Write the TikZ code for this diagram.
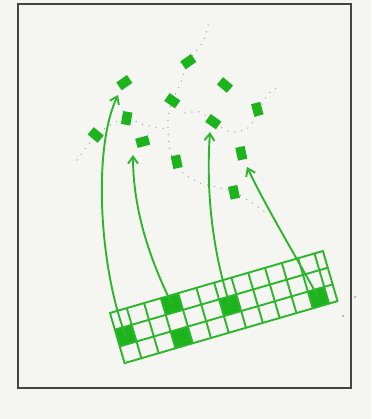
\documentclass[tikz,border=0pt]{standalone}
\usetikzlibrary{arrows.meta}
\definecolor{bg}{HTML}{F5F5F2}
\definecolor{grn}{HTML}{2EB52E}
\definecolor{grnfill}{HTML}{1DB31D}
\definecolor{framec}{HTML}{444444}
\definecolor{dotc}{HTML}{A8A8A8}
\begin{document}
\begin{tikzpicture}[x=1pt,y=-1pt,
  patch/.style={rectangle, fill=grnfill, minimum width=13pt, minimum height=9.5pt, inner sep=0pt},
  tallpatch/.style={patch, minimum width=9.5pt, minimum height=13pt},
  link/.style={draw=grn, line width=1.9pt, -{Straight Barb[length=7pt,width=10pt,line width=1.9pt]}},
  gridline/.style={draw=grn, line width=1.9pt, line cap=round},
  trail/.style={draw=dotc, line width=1.5pt, line cap=round, dash pattern=on 0pt off 7pt}]
\fill[bg] (0,0) rectangle (371,419);
\useasboundingbox (0,0) rectangle (371,419);
\draw[framec, line width=2pt] (17.5,4.5) rectangle (350.5,388);
% faint dotted trails
\draw[trail] plot[smooth] coordinates {(208,25) (203,42) (188,62) (180,85) (172,101) (168,120) (170,150) (180,170) (200,183) (234,192) (265,212)};
\draw[trail] plot[smooth] coordinates {(185,113) (200,112) (213,121) (230,132) (248,128) (258,112) (268,94) (280,86)};
\draw[trail] plot[smooth] coordinates {(77,160) (88,145) (96,135) (112,124) (127,118) (142,124) (158,128) (168,128)};
\fill[dotc] (355,297) circle (1.2);
\fill[dotc] (343,316) circle (1.2);
% scattered patches
\node[patch, rotate=35]  (p1)  at (124.3,82.7) {};
\node[patch, rotate=35]  (p2)  at (188.3,61.7) {};
\node[patch, rotate=-40] (p3)  at (225,85) {};
\node[patch, rotate=-35] (p4)  at (172.3,100.7) {};
\node[tallpatch, rotate=-10] (p5) at (126.7,118.3) {};
\node[patch, rotate=-40] (p6)  at (95.7,135) {};
\node[patch, rotate=15]  (p7)  at (142.7,141.7) {};
\node[patch, rotate=-35] (p8)  at (213.3,121.7) {};
\node[tallpatch, rotate=15] (p9)  at (257.3,109.3) {};
\node[tallpatch, rotate=12] (p10) at (176.7,161.7) {};
\node[tallpatch, rotate=12] (p11) at (241.3,153.3) {};
\node[tallpatch, rotate=12] (p12) at (234,192.3) {};
% tilted grid
\begin{scope}[shift={(110,313)}, x={(0.960pt,0.2795pt)}, y={(0.2795pt,-0.960pt)}]
  \foreach \a/\b/\r/\n in {0/17.5/17.4/cA, 53/71/0/cB, 53/71/34.8/cC, 108.5/126.5/17.4/cD, 196/213/34.8/cE}{
    \fill[grnfill] (\a,\r) -- (\b,\r) -- (\b,\r+17.4) -- (\a,\r+17.4) -- cycle;
    \coordinate (\n) at ({(\a+\b)/2},{\r+8.7});
  }
  \foreach \u in {0,17.5,35.5,53,71,90,108.5,126.5,144,161.5,179,196,213,221.8}
    \draw[gridline] (\u,0) -- (\u,52.2);
  \foreach \v in {0,17.4,34.8,52.2}
    \draw[gridline] (0,\v) -- (221.8,\v);
\end{scope}
% arrow tips
\coordinate (t1) at (118,95);
\coordinate (t2) at (133,155);
\coordinate (t3) at (210,132);
\coordinate (t4) at (247,167);
\draw[link] (cA) .. controls (100,270) and (92,150) .. (t1);
\draw[link] (cB) .. controls (150,260) and (133,210) .. (t2);
\draw[link] (cD) .. controls (212,250) and (206,190) .. (t3);
\draw[link] (cE) .. controls (295,255) and (265,205) .. (t4);
\end{tikzpicture}
\end{document}
